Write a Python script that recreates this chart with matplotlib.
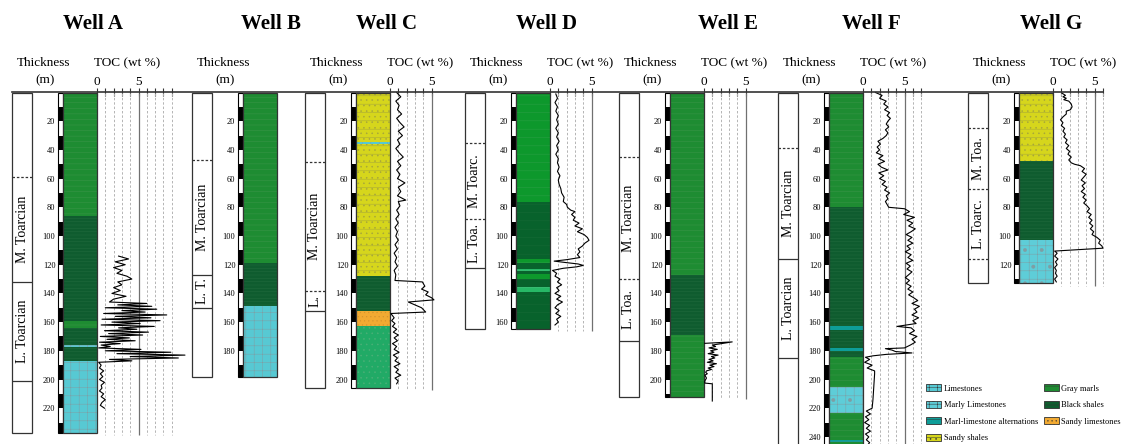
import numpy as np
import matplotlib
matplotlib.use('Agg')
import matplotlib.pyplot as plt
from matplotlib.patches import Rectangle, Patch
from matplotlib.lines import Line2D

plt.rcParams['font.family'] = ['Liberation Serif', 'DejaVu Serif']
plt.rcParams['hatch.linewidth'] = 0.35

# ---------------- data ----------------
well_names = ['Well A', 'Well B', 'Well C', 'Well D', 'Well E', 'Well F', 'Well G']
well_bottom = [237, 198, 206, 165, 212, 250, 133]

# lithology: top depth of each unit (m) and rock type
a_lith_top = [0, 86, 159, 164, 176, 177.5, 187]
a_lith = ['marl', 'black', 'marl', 'black', 'lime', 'black', 'lime']
b_lith_top = [0, 119, 149]
b_lith = ['marl', 'black', 'lime']
c_lith_top = [0, 34.5, 36, 128, 152, 163]
c_lith = ['sandy', 'lime', 'sandy', 'black', 'sandylime', 'marl_c']
d_lith_top = [0, 0.8, 76, 116, 118.7, 123, 124.3, 126.5, 130, 135.5, 139]
d_lith = ['sandy', 'marl_b', 'black_d', 'marl_b', 'black_d', 'marl_l', 'black_d',
          'marl_b', 'black_d', 'marl_l', 'black_d']
e_lith_top = [0, 127.5, 169]
e_lith = ['marl', 'black', 'marl']
f_lith_top = [0, 80, 163, 165.5, 178, 180, 184, 205, 223, 242, 243.5]
f_lith = ['marl', 'black', 'alt', 'black', 'alt', 'black', 'marl', 'marlylime',
          'marl', 'alt', 'marl']
g_lith_top = [0, 48, 102.5]
g_lith = ['sandy', 'black', 'marlylime']

# stage boundaries (m), dashed or not, and stage names between them
a_stage_cut = [59, 132, 201]
a_stage_dash = [True, False, False]
a_stage_name = ['M. Toarcian', 'L. Toarcian']
b_stage_cut = [47, 127, 150]
b_stage_dash = [True, False, False]
b_stage_name = ['M. Toarcian', 'L. T.']
c_stage_cut = [48.5, 138, 152]
c_stage_dash = [True, True, False]
c_stage_name = ['M. Toarcian', 'L.']
d_stage_cut = [35.5, 88, 122]
d_stage_dash = [True, True, False]
d_stage_name = ['M. Toarc.', 'L. Toa.']
e_stage_cut = [45, 130, 173]
e_stage_dash = [True, True, False]
e_stage_name = ['M. Toarcian', 'L. Toa.']
f_stage_cut = [39, 116, 185]
f_stage_dash = [True, False, False]
f_stage_name = ['M. Toarcian', 'L. Toarcian']
g_stage_cut = [25, 67, 116]
g_stage_dash = [True, True, True]
g_stage_name = ['M. Toa.', 'L. Toarc.']

# TOC profiles (wt %) against thickness (m)
a_toc_depth = [114, 116, 118, 120, 122, 124, 126, 128, 130, 132,
               134, 136, 138, 140, 142, 144, 146, 147, 148, 149,
               150, 151, 152, 153, 154, 155, 156, 157, 158, 159,
               160, 161, 162, 163, 164, 165, 166, 167, 168, 169,
               170, 171, 172, 173, 174, 175, 176, 177, 178, 179,
               180, 181, 182, 183, 184, 185, 186, 187, 188, 190,
               192, 194, 196, 198, 200, 202, 204, 206, 208, 210,
               212, 214, 216, 218, 220]
a_toc = [2.6, 3.8, 2.2, 3.4, 2.0, 3.0, 2.4, 3.6, 4.2, 2.5,
         3.0, 2.0, 2.8, 1.8, 3.5, 2.0, 1.5, 6.0, 2.5, 6.6,
         1.0, 7.2, 3.0, 5.8, 0.8, 8.4, 2.2, 6.5, 0.6, 7.6,
         1.8, 5.2, 0.5, 6.9, 2.6, 4.8, 0.9, 6.2, 1.4, 5.5,
         0.4, 3.9, 1.2, 4.6, 0.3, 2.8, 0.5, 1.6, 0.2, 5.3,
         1.0, 8.9, 2.4, 10.6, 4.0, 9.8, 1.5, 4.2, 0.2, 0.5,
         0.3, 0.8, 0.4, 0.7, 0.3, 0.9, 0.5, 0.6, 0.3, 0.8,
         0.5, 1.0, 0.6, 0.4, 0.9]

c_toc_depth = [0, 3, 6, 9, 12, 15, 18, 21, 24, 27,
               30, 33, 36, 39, 42, 45, 48, 51, 54, 57,
               60, 63, 66, 69, 72, 75, 76, 79, 82, 85,
               88, 91, 94, 97, 100, 103, 106, 109, 112, 115,
               118, 121, 124, 127, 131, 132, 135, 137, 139, 141,
               143, 144.5, 146, 148, 150, 153, 154, 157, 159, 161,
               163, 165, 167, 169, 171, 173, 175, 177, 179, 181,
               183, 185, 187, 189, 191, 193, 195, 197, 199, 201,
               203]
c_toc = [0.8, 1.3, 0.7, 1.1, 0.9, 1.4, 0.8, 1.2, 1.7, 1.0,
         1.5, 0.9, 1.2, 0.7, 1.1, 1.6, 0.9, 1.3, 0.8, 1.2,
         0.9, 1.8, 1.0, 1.3, 0.9, 1.9, 1.0, 1.2, 0.8, 1.1,
         0.7, 1.0, 0.6, 0.9, 0.7, 1.0, 0.6, 0.9, 0.5, 0.8,
         0.6, 0.9, 0.5, 0.7, 0.6, 3.9, 4.2, 3.8, 4.6, 4.3,
         5.0, 5.3, 2.2, 3.0, 3.8, 4.3, 0.1, 0.5, 0.2, 0.6,
         0.3, 0.8, 0.4, 1.0, 0.5, 0.9, 0.3, 0.8, 0.5, 1.1,
         0.4, 0.9, 0.6, 1.2, 0.5, 1.0, 0.7, 1.3, 0.6, 1.0,
         0.8]

d_toc_depth = [1, 4, 7, 10, 13, 16, 19, 22, 25, 28,
               31, 34, 37, 40, 43, 46, 49, 52, 55, 58,
               61, 64, 67, 70, 73, 76, 78, 80, 82, 83,
               85, 87, 89, 91, 93, 95, 97, 99, 101, 103,
               105, 107, 109, 111, 113, 115, 116.5, 117.5, 118.5, 119.5,
               120.5, 121.5, 122.5, 124, 126, 128, 130, 132, 134, 136,
               138, 140, 142, 144, 146, 148, 150, 152, 154, 156,
               158, 160, 162]
d_toc = [0.7, 0.9, 0.6, 0.9, 0.7, 1.0, 0.8, 1.0, 0.7, 1.0,
         0.8, 1.1, 0.8, 1.0, 0.7, 1.0, 0.9, 1.1, 0.9, 1.2,
         1.0, 1.1, 1.3, 1.4, 1.7, 1.6, 2.0, 2.1, 2.5, 3.0,
         2.6, 3.0, 2.8, 3.5, 3.0, 3.9, 3.3, 4.1, 4.5, 4.7,
         4.2, 3.9, 3.4, 3.6, 3.3, 3.6, 2.0, 0.5, 1.9, 3.4,
         4.0, 3.2, 1.6, 0.3, 0.8, 0.6, 1.2, 0.9, 1.4, 0.8,
         1.1, 0.6, 1.3, 0.8, 1.5, 0.9, 0.6, 1.1, 0.7, 1.3,
         0.8, 1.0, 0.6]

e_toc_depth = [174.8, 173.8, 176.0, 177, 178, 179, 180, 181, 182, 183,
               184, 185, 186, 187, 188, 189, 190, 191, 192, 193,
               194, 195, 196, 197, 199, 201, 202.5, 203, 215]
e_toc = [0.1, 3.4, 1.0, 1.4, 0.6, 1.6, 0.8, 1.2, 0.5, 1.7,
         0.9, 1.3, 0.6, 1.1, 0.4, 1.5, 0.7, 1.2, 0.5, 0.9,
         0.3, 0.2, 0.4, 0.1, 0.3, 0.1, 0.1, 1.0, 1.0]

f_toc_depth = [0, 2, 4, 6, 8, 10, 12, 14, 16, 18,
               20, 22, 24, 26, 28, 30, 32, 34, 36, 38,
               40, 42, 44, 46, 48, 50, 52, 54, 56, 58,
               60, 62, 64, 66, 68, 70, 72, 74, 76, 78,
               80, 81, 83, 85, 87, 89, 91, 93, 95, 97,
               99, 101, 103, 105, 107, 109, 111, 113, 115, 117,
               119, 121, 123, 125, 127, 129, 131, 133, 135, 137,
               139, 141, 143, 145, 147, 149, 151, 153, 155, 157,
               159, 161, 163, 164, 166, 168, 170, 172, 174, 176,
               178, 178.5, 179.5, 180.5, 181.5, 182.5, 183.5, 184.5, 186, 188,
               190, 192, 194, 196, 205, 214, 220, 222, 224, 226,
               228, 230, 232, 234, 236, 238, 240, 242, 244, 246]
f_toc = [1.5, 2.3, 2.0, 2.8, 2.5, 3.0, 2.6, 3.2, 2.9, 3.3,
         3.0, 2.8, 3.1, 2.7, 3.0, 2.8, 2.4, 1.8, 2.1, 1.7,
         2.0, 1.6, 2.4, 1.9, 2.6, 1.8, 2.2, 3.0, 1.9, 2.5,
         2.0, 2.7, 2.3, 2.9, 2.6, 3.2, 2.8, 3.0, 2.7, 2.9,
         3.1, 5.0, 5.6, 4.9, 6.2, 5.3, 6.0, 5.5, 6.3, 5.8,
         5.2, 5.9, 5.4, 6.0, 5.3, 5.7, 5.1, 5.8, 5.4, 6.0,
         5.2, 5.7, 5.3, 5.9, 5.5, 5.1, 5.6, 5.2, 5.8, 5.4,
         6.0, 5.5, 6.1, 6.6, 5.9, 6.8, 6.2, 6.5, 5.9, 6.7,
         6.0, 6.4, 4.1, 5.8, 6.2, 5.6, 6.5, 5.9, 6.3, 5.7,
         5.0, 2.7, 3.5, 3.9, 5.9, 2.8, 1.2, 0.3, 0.8, 0.2,
         1.1, 0.5, 1.4, 1.4, 1.3, 1.2, 1.1, 0.4, 0.9, 0.3,
         0.7, 0.2, 0.8, 0.4, 0.9, 0.3, 0.7, 0.4, 0.8, 0.5]

g_toc_depth = [0.5, 2, 3, 4, 5, 6, 8, 10, 12, 13,
               15, 17, 19, 21, 23, 25, 27, 29, 31, 33,
               35, 37, 39, 41, 43, 45, 47, 49, 50, 51,
               53, 55, 57, 59, 61, 63, 65, 67, 69, 71,
               73, 75, 77, 79, 81, 83, 85, 87, 89, 91,
               93, 95, 97, 99, 101, 103, 105, 107, 108.5, 110.5,
               112, 114, 116, 118, 120, 122, 124, 126, 128, 130,
               132]
g_toc = [1.1, 1.5, 1.2, 1.6, 1.3, 1.9, 2.2, 2.3, 2.1, 1.6,
         1.6, 1.2, 0.9, 1.2, 1.0, 1.4, 1.2, 1.5, 1.3, 1.7,
         1.5, 1.9, 1.6, 2.0, 1.8, 2.2, 1.9, 2.2, 2.6, 3.3,
         3.8, 3.5, 4.0, 3.7, 3.4, 3.9, 3.5, 3.8, 3.4, 3.9,
         3.6, 4.0, 3.7, 4.1, 4.4, 4.1, 4.6, 4.3, 4.7, 4.4,
         4.8, 4.5, 4.9, 4.7, 5.3, 5.7, 5.5, 5.9, 6.0, 0.2,
         0.5, 0.2, 0.6, 0.3, 0.5, 0.2, 0.4, 0.3, 0.5, 0.2,
         0.4]

toc_max = [9, None, 5, 5, 5, 7, 6]

legend_kinds = ['lime', 'marlylime', 'alt', 'sandy', 'marl', 'black', 'sandylime']
legend_labels = ['Limestones', 'Marly Limestones', 'Marl-limestone alternations',
                 'Sandy shales', 'Gray marls', 'Black shales', 'Sandy limestones']

# ---------------- styles / layout ----------------
# fill colour, hatch colour, hatch
lith_style = {
    'marl': ('#1e8c32', '#3c9649', '---'),
    'marl_b': ('#0d982c', '#2ba046', '--'),
    'marl_c': ('#21aa66', '#4cb078', '...'),
    'marl_l': ('#27b866', '#49c07e', '--'),
    'black': ('#0f5c2f', '#226c3e', '-----'),
    'black_d': ('#08622c', '#176b38', '--'),
    'lime': ('#57c9d3', '#7f9ea4', '++'),
    'marlylime': ('#5ecdd8', '#7f9ea4', '++.'),
    'alt': ('#0e9d98', '#2e9490', '---'),
    'sandy': ('#d6d61c', '#a4a43c', '...--'),
    'sandylime': ('#f2aa32', '#d4942e', '....'),
}

W, H = 1126, 444
TOP = 92.5                 # px of the 0 m line
PXM = 1.435                # px per metre
TOC_PX = 8.3               # px per wt %
DMAX = (H - TOP) / PXM
stage_x0 = [12, 192, 305, 465, 619, 778, 968]
title_x = [93, 271, 386, 546, 728, 871, 1051]
edge = '#333333'

fig = plt.figure(figsize=(W / 100, H / 100), dpi=100)


def depth_axes(x0, width, xlim=(0, 1)):
    ax = fig.add_axes([x0 / W, 0, width / W, (H - TOP) / H])
    ax.set_xlim(*xlim)
    ax.set_ylim(DMAX, 0)
    for s in ax.spines.values():
        s.set_visible(False)
    ax.set_xticks([])
    ax.set_yticks([])
    ax.patch.set_alpha(0)
    return ax


lith_tops = [a_lith_top, b_lith_top, c_lith_top, d_lith_top, e_lith_top, f_lith_top, g_lith_top]
liths = [a_lith, b_lith, c_lith, d_lith, e_lith, f_lith, g_lith]
stage_cuts = [a_stage_cut, b_stage_cut, c_stage_cut, d_stage_cut, e_stage_cut, f_stage_cut, g_stage_cut]
stage_dash = [a_stage_dash, b_stage_dash, c_stage_dash, d_stage_dash, e_stage_dash, f_stage_dash, g_stage_dash]
stage_names = [a_stage_name, b_stage_name, c_stage_name, d_stage_name, e_stage_name, f_stage_name, g_stage_name]
toc_depths = [a_toc_depth, None, c_toc_depth, d_toc_depth, e_toc_depth, f_toc_depth, g_toc_depth]
tocs = [a_toc, None, c_toc, d_toc, e_toc, f_toc, g_toc]

for i, name in enumerate(well_names):
    sx = stage_x0[i]
    bottom = well_bottom[i]

    fig.text(title_x[i] / W, 1 - 24 / H, name, fontsize=15, fontweight='bold',
             ha='center', va='center')
    fig.text((sx + 32) / W, 1 - 63 / H, 'Thickness', fontsize=9.5, ha='center', va='center')
    fig.text((sx + 33) / W, 1 - 80 / H, '(m)', fontsize=9.5, ha='center', va='center')

    # stage column
    ax_s = depth_axes(sx, 20)
    ax_s.add_patch(Rectangle((0, 0), 1, bottom, facecolor='white', edgecolor=edge,
                             lw=0.9, clip_on=False))
    cuts = stage_cuts[i]
    for c, dsh in zip(cuts, stage_dash[i]):
        ax_s.hlines(c, 0, 1, colors=edge, lw=0.9,
                    linestyles=(0, (2, 1.5)) if dsh else 'solid')
    for k, sname in enumerate(stage_names[i]):
        ax_s.text(0.5, (cuts[k] + cuts[k + 1]) / 2, sname, rotation=90, fontsize=10,
                  ha='center', va='center')

    # depth scale bar
    ax_b = depth_axes(sx + 45.5, 5)
    for k, d0 in enumerate(np.arange(0, bottom, 10)):
        ax_b.add_patch(Rectangle((0, d0), 1, min(10, bottom - d0),
                                 facecolor='black' if k % 2 else 'white', lw=0))
    ax_b.add_patch(Rectangle((0, 0), 1, bottom, fill=False, edgecolor='black',
                             lw=0.8, clip_on=False))
    ticks = np.arange(20, bottom, 20)
    ax_b.set_yticks(ticks)
    ax_b.set_yticklabels([str(int(t)) for t in ticks])
    ax_b.tick_params(axis='y', length=0, labelsize=6, pad=1.5)

    # lithology column
    ax_l = depth_axes(sx + 50.5, 34.5)
    tops = lith_tops[i]
    for top, kind, nxt in zip(tops, liths[i], tops[1:] + [bottom]):
        fc, hc, hatch = lith_style[kind]
        ax_l.add_patch(Rectangle((0, top), 1, nxt - top, facecolor=fc, edgecolor=hc,
                                 lw=0, hatch=hatch))
    ax_l.add_patch(Rectangle((0, 0), 1, bottom, fill=False, edgecolor=edge,
                             lw=0.9, clip_on=False))

    # TOC track
    if toc_max[i] is None:
        continue
    tmax = toc_max[i]
    x0 = sx + 85
    ax_t = depth_axes(x0, tmax * TOC_PX, (0, tmax))
    gbot = bottom + 1.5
    for v in range(1, tmax + 1):
        if v == 5:
            ax_t.vlines(v, 0, gbot, colors='#707070', lw=0.9, clip_on=False)
        else:
            ax_t.vlines(v, 0, gbot, colors='#b4b4b4', lw=0.7,
                        linestyles=(0, (2.5, 2)), clip_on=False)
    ax_t.plot(tocs[i], toc_depths[i], color='black', lw=0.8, clip_on=False)
    ax_t.xaxis.set_ticks_position('top')
    ax_t.set_xticks(range(tmax + 1))
    ax_t.set_xticklabels(['0' if v == 0 else '5' if v == 5 else '' for v in range(tmax + 1)])
    ax_t.tick_params(axis='x', direction='inout', length=6, width=0.8, labelsize=9.5,
                     pad=0.5, color=edge)
    fig.text((x0 + 30) / W, 1 - 63 / H, 'TOC (wt %)', fontsize=9.5, ha='center', va='center')

# top line
fig.add_artist(Line2D([12 / W, 1103 / W], [1 - TOP / H] * 2, color=edge, lw=1.2))

handles = [Patch(facecolor=lith_style[k][0], edgecolor=edge, lw=0.6, hatch=lith_style[k][2])
           for k in legend_kinds]
fig.legend(handles, legend_labels, ncol=2, loc='upper left',
           bbox_to_anchor=(926 / W, 1 - 384 / H), frameon=False, fontsize=6,
           handlelength=1.8, handleheight=1.0, labelspacing=0.95, columnspacing=0.7,
           handletextpad=0.3, borderpad=0, borderaxespad=0)

fig.savefig('out.png', dpi=100)
